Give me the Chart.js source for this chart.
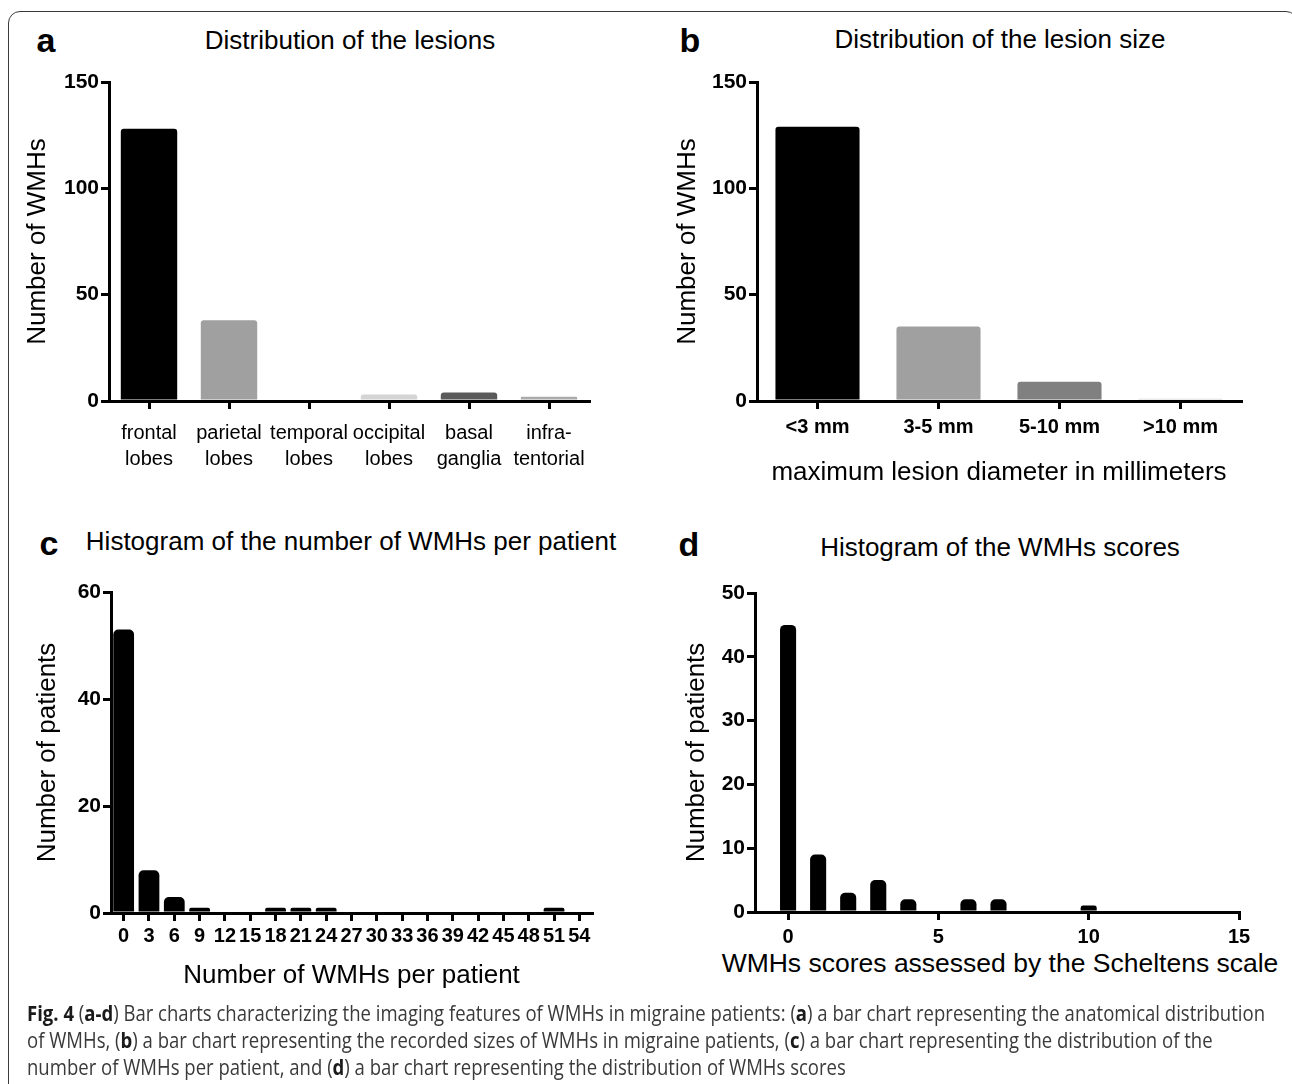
<!DOCTYPE html>
<html lang="en">
<head>
<meta charset="UTF-8" />
<title>Fig. 4 | WMHs in migraine patients</title>
<script src="https://cdn.jsdelivr.net/npm/chart.js"></script>
<style>
  html, body { margin: 0; padding: 0; background: #fff; }
  body { width: 1292px; height: 1084px; position: relative; overflow: hidden;
         font-family: 'Liberation Sans', Arial, sans-serif; color: #000; }
  .frame { position: absolute; left: 8px; top: 11px; width: 1290px; height: 1110px;
           border: 1.5px solid #3a3a3a; border-radius: 12px; box-sizing: border-box; }
  .panel { position: absolute; width: 646px; height: 440px; }
  .letter { position: absolute; font-weight: bold; font-size: 34px; line-height: 1;
            transform: translate(-50%, -50%); }
  .title { position: absolute; font-size: 26px; line-height: 1; white-space: nowrap;
           transform: translate(-50%, -50%); }
  .caption { position: absolute; left: 27px; top: 1000px; font-family: 'Open Sans', sans-serif;
             font-size: 21px; line-height: 27px; color: #3a3a3a; transform-origin: 0 0; }
  .caption span.line { white-space: nowrap; }
  .caption b { color: #1a1a1a; }
</style>
</head>
<body>

  <div class="frame"></div>

  <!-- panel letters and titles -->
  <div class="letter" style="left:46px; top:40px;">a</div>
  <div class="title" style="left:350px; top:40px;">Distribution of the lesions</div>
  <div class="letter" style="left:690px; top:40px;">b</div>
  <div class="title" style="left:1000px; top:39px;">Distribution of the lesion size</div>
  <div class="letter" style="left:49px; top:543px;">c</div>
  <div class="title" style="left:351px; top:541px;">Histogram of the number of WMHs per patient</div>
  <div class="letter" style="left:689px; top:544px;">d</div>
  <div class="title" style="left:1000px; top:547px;">Histogram of the WMHs scores</div>
  <!-- d axis label is wider than its axis, so it lives outside the canvas -->
  <div class="title" style="left:1000px; top:963px; font-size:26.5px;">WMHs scores assessed by the Scheltens scale</div>

  <div class="panel" style="left:0; top:60px;"><canvas id="chartA"></canvas></div>
  <div class="panel" style="left:646px; top:60px;"><canvas id="chartB"></canvas></div>
  <div class="panel" style="left:0; top:560px;"><canvas id="chartC"></canvas></div>
  <div class="panel" style="left:646px; top:560px;"><canvas id="chartD"></canvas></div>

  <!-- Caption -->
  <div class="caption" id="caption">
    <span class="line" id="capLine1"><b>Fig. 4</b> (<b>a-d</b>) Bar charts characterizing the imaging features of WMHs in migraine patients: (<b>a</b>) a bar chart representing the anatomical distribution</span><br>
    <span class="line">of WMHs, (<b>b</b>) a bar chart representing the recorded sizes of WMHs in migraine patients, (<b>c</b>) a bar chart representing the distribution of the</span><br>
    <span class="line">number of WMHs per patient, and (<b>d</b>) a bar chart representing the distribution of WMHs scores</span>
  </div>

  <script>
    // (a) anatomical distribution
    const lobeLabels = [['frontal', 'lobes'], ['parietal', 'lobes'], ['temporal', 'lobes'],
                        ['occipital', 'lobes'], ['basal', 'ganglia'], ['infra-', 'tentorial']];
    const lobeCounts = [128, 38, 0, 3, 4, 2];
    const lobeColors = ['#000000', '#a0a0a0', '#9a9a9a', '#d4d4d4', '#5a5a5a', '#ababab'];

    // (b) lesion size
    const sizeLabels = ['<3 mm', '3-5 mm', '5-10 mm', '>10 mm'];
    const sizeCounts = [129, 35, 9, 1];
    const sizeColors = ['#000000', '#a0a0a0', '#808080', '#d6d6d6'];

    // (c) WMHs per patient
    const perPatientBins = ['0', '3', '6', '9', '12', '15', '18', '21', '24', '27', '30',
                            '33', '36', '39', '42', '45', '48', '51', '54'];
    const perPatientCounts = [53, 8, 3, 1, 0, 0, 1, 1, 1, 0, 0, 0, 0, 0, 0, 0, 0, 1, 0];

    // (d) Scheltens scores
    const scoreValues = [0, 1, 2, 3, 4, 6, 7, 10];
    const scoreCounts = [45, 9, 3, 5, 2, 2, 2, 1];
    const scoreTicks = [0, 5, 10, 15];

    const FONT = "'Liberation Sans', Arial, sans-serif";

    const gridStyle = { offset: false, drawOnChartArea: false, drawTicks: true,
                        tickLength: 8, lineWidth: 3, color: '#000' };
    const borderStyle = { display: true, width: 3, color: '#000' };

    function yAxis(max, step, title, width, titlePad) {
      return {
        min: 0, max: max, z: 1,
        ticks: { stepSize: step, color: '#000', padding: 2,
                 font: { family: FONT, size: 21, weight: 'bold' } },
        grid: gridStyle,
        border: borderStyle,
        title: { display: true, text: title, color: '#000',
                 font: { family: FONT, size: 26 }, padding: { top: titlePad, bottom: 0 } },
        afterFit: s => { s.width = width; }
      };
    }

    // x title sits at the bottom edge of the x scale box
    function xTitle(text) {
      if (!text) return { display: false };
      return { display: true, text: text, color: '#000',
               font: { family: FONT, size: 26 }, padding: 0 };
    }

    function categoryAxis(font, pad, height, title) {
      return {
        type: 'category', offset: true, z: 1,
        grid: gridStyle,
        border: borderStyle,
        ticks: { color: '#000', font: font, padding: pad, maxRotation: 0, autoSkip: false },
        title: xTitle(title),
        afterFit: s => { s.height = height; }
      };
    }

    function baseOptions(top, right, bottom, scales) {
      return {
        responsive: true,
        maintainAspectRatio: false,
        animation: false,
        layout: { padding: { left: 0, top: top, right: right, bottom: bottom } },
        plugins: { legend: { display: false }, tooltip: { enabled: false } },
        scales: scales
      };
    }

    // a
    new Chart(document.getElementById('chartA'), {
      type: 'bar',
      data: {
        labels: lobeLabels,
        datasets: [{ data: lobeCounts, backgroundColor: lobeColors, borderWidth: 0,
                     borderRadius: 3, categoryPercentage: 1, barPercentage: 0.705 }]
      },
      options: baseOptions(22, 57, 0, {
        x: categoryAxis({ family: FONT, size: 20, lineHeight: 1.3 }, 11, 99, null),
        y: yAxis(150, 50, 'Number of WMHs', 109, 22)
      })
    });

    // b
    new Chart(document.getElementById('chartB'), {
      type: 'bar',
      data: {
        labels: sizeLabels,
        datasets: [{ data: sizeCounts, backgroundColor: sizeColors, borderWidth: 0,
                     borderRadius: 3, categoryPercentage: 1, barPercentage: 0.695 }]
      },
      options: baseOptions(22, 51, 12, {
        x: categoryAxis({ family: FONT, size: 20, weight: 'bold' }, 6, 87,
                        'maximum lesion diameter in millimeters'),
        y: yAxis(150, 50, 'Number of WMHs', 111, 26)
      })
    });

    // c
    new Chart(document.getElementById('chartC'), {
      type: 'bar',
      data: {
        labels: perPatientBins,
        datasets: [{ data: perPatientCounts, backgroundColor: '#000', borderWidth: 0,
                     borderRadius: 5, categoryPercentage: 1, barPercentage: 0.82 }]
      },
      options: baseOptions(32, 54, 9, {
        x: categoryAxis({ family: FONT, size: 20, weight: 'bold' }, 3, 78,
                        'Number of WMHs per patient'),
        y: yAxis(60, 20, 'Number of patients', 111, 32)
      })
    });

    // d
    new Chart(document.getElementById('chartD'), {
      type: 'bar',
      data: {
        datasets: [{
          data: scoreValues.map((v, i) => ({ x: v, y: scoreCounts[i] })),
          backgroundColor: '#000', borderWidth: 0, borderRadius: 5,
          categoryPercentage: 1, barPercentage: 0.535
        }]
      },
      options: baseOptions(33, 53, 20, {
        x: {
          type: 'linear', min: -1.1, max: 15, offset: false, z: 1,
          grid: gridStyle,
          border: borderStyle,
          afterBuildTicks: s => { s.ticks = scoreTicks.map(v => ({ value: v })); },
          ticks: { color: '#000', padding: 5, maxRotation: 0,
                   font: { family: FONT, size: 20, weight: 'bold' } },
          title: { display: false },
          afterFit: s => { s.height = 68; }
        },
        y: yAxis(50, 10, 'Number of patients', 109, 35)
      })
    });

    // squeeze the caption to the printed line width
    const cap = document.getElementById('caption');
    const w = document.getElementById('capLine1').getBoundingClientRect().width;
    cap.style.transform = 'scaleX(' + (1238 / w) + ')';
  </script>
</body>
</html>
